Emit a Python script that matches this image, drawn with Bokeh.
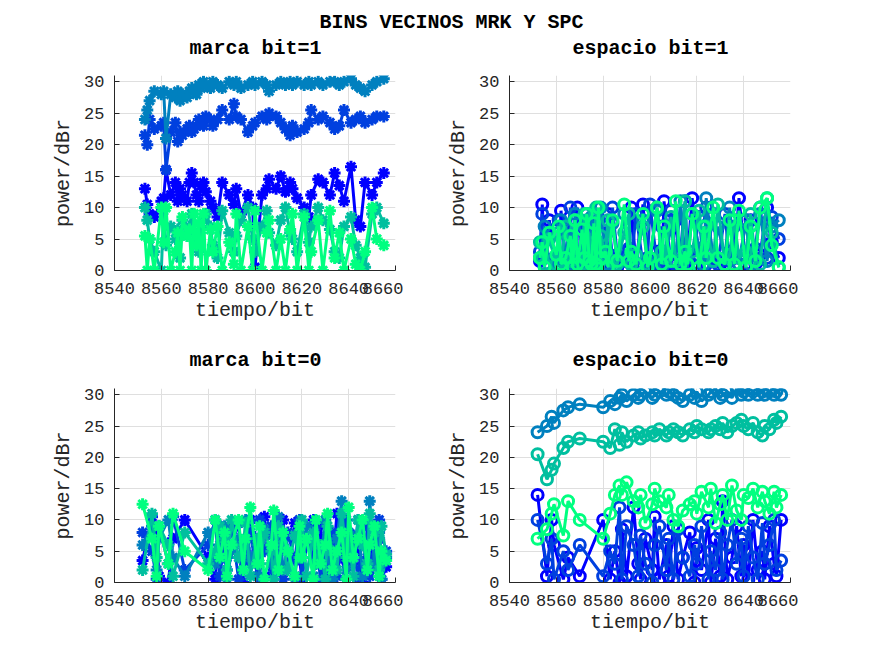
from bokeh.plotting import figure
from bokeh.models import Range1d, FixedTicker, Label
from bokeh.layouts import column, row
from bokeh.embed import file_html
from bokeh.resources import INLINE

# ---------------- data ----------------
suptitle = "BINS VECINOS MRK Y SPC"
titles = ["marca bit=1", "espacio bit=1", "marca bit=0", "espacio bit=0"]
x_label = "tiempo/bit"
y_label = "power/dBr"
x_ticks = [8540, 8560, 8580, 8600, 8620, 8640, 8660]
y_ticks = [0, 5, 10, 15, 20, 25, 30]
series_colors = ["#0000FF", "#0040DF", "#0080BF", "#00BF9F", "#00FF80"]

# bit positions where bit = 1 / bit = 0
xs1 = [8553, 8554, 8555, 8557, 8560, 8561, 8562, 8564, 8566, 8567,
       8568, 8569, 8571, 8572, 8573, 8574, 8575, 8576, 8577, 8578,
       8579, 8581, 8582, 8584, 8586, 8589, 8591, 8592, 8594, 8597,
       8599, 8600, 8603, 8605, 8606, 8609, 8611, 8613, 8615, 8616,
       8618, 8621, 8623, 8624, 8627, 8629, 8632, 8634, 8636, 8638,
       8641, 8643, 8645, 8647, 8650, 8652, 8655]
xs0 = [8552, 8556, 8558, 8559, 8563, 8565, 8570, 8580, 8583, 8585,
       8587, 8588, 8590, 8593, 8595, 8596, 8598, 8601, 8602, 8604,
       8607, 8608, 8610, 8612, 8614, 8617, 8619, 8620, 8622, 8625,
       8626, 8628, 8630, 8631, 8633, 8635, 8637, 8639, 8640, 8642,
       8644, 8646, 8648, 8649, 8651, 8653, 8654, 8656]

# marca bit=1 (5 neighbouring bins)
mk1_a = [13, 10.5, 9, 8.5, 11, 11.5, 16, 12, 14, 11,
         13, 12, 11, 14, 15.5, 14, 12, 11, 13.5, 14,
         12.5, 11, 10, 8.5, 14, 12, 10.5, 13, 9, 12,
         10, 0.5, 12, 13, 14.5, 13, 15, 12.5, 14, 13,
         11.5, 10, 8.5, 12, 14.5, 14, 12, 15.5, 13.5, 11,
         16.5, 8, 7, 14, 12, 14, 15.5]
mk1_b = [21.5, 20, 24, 22.5, 23, 23.5, 16, 22, 23.5, 20.5,
         22, 21.5, 22.5, 23, 22, 22.5, 23, 24, 23.5, 23,
         24.5, 24, 23, 24, 25.5, 24, 26.5, 24.5, 24, 22,
         23, 23.5, 24.5, 24, 25, 24.5, 23.5, 22.5, 21.5, 23,
         22, 22.5, 23.5, 25.5, 24, 24.5, 23.5, 22.5, 23, 25.5,
         23.5, 24, 24.5, 23.5, 24, 24.5, 24.5]
mk1_c = [24, 25.5, 27, 28.5, 28, 28.5, 21, 28, 27.5, 28.5,
         27, 28, 27.5, 28.5, 29, 28.5, 28, 29.5, 29, 30,
         29.5, 29, 30, 29.5, 29, 30, 29.5, 30, 29, 29.5,
         30, 29.5, 30, 29.5, 28.5, 29.5, 30, 29.5, 30, 29.5,
         30, 29.5, 30, 29.5, 30, 29.5, 30, 30, 29.5, 30,
         30.5, 29.5, 29, 28.5, 29.5, 30, 30.5]
mk1_d = [10, 8, 5, 3, 0, 9.5, 4, 7, 5, 6.5,
         2, 8, 5.5, 7, 9, 6, 4, 3, 6.5, 8,
         9, 7, 4, 2, 9.5, 6, 3, 5.5, 8, 10,
         5, 3, 7, 9.5, 6, 4, 8, 10, 6, 5,
         3, 9, 4.5, 7, 10, 8, 6.5, 3, 2, 7,
         8.5, 4, 2, 0.5, 9, 10, 7.5]
mk1_e = [5.5, 0, 5, 0, 10, 4.5, 10, 0, 3, 6,
         0, 8.5, 5.5, 6.5, 0, 9, 4, 7.5, 0, 9,
         0, 6.5, 3, 7, 0, 4.5, 1, 9, 0, 7,
         0, 9.5, 0, 6, 8, 0, 5, 0, 6.5, 9,
         0, 8.5, 0, 3, 8, 0, 9.5, 2, 6, 0,
         5, 1, 0, 3, 10, 5, 4]

# espacio bit=1
sp1_a = [1.5, 10.5, 2, 8, 0.5, 1, 9.5, 1, 3, 0.5,
         2.5, 10, 1, 7, 1.5, 0.5, 2, 8.5, 1, 3,
         1, 1.5, 9, 2, 0.5, 3, 1.5, 10, 1, 10.5,
         2, 0.5, 3, 1, 11, 1, 8, 1.5, 0.5, 2,
         11.5, 2, 7, 1, 9, 1.5, 0.5, 3, 2, 11.5,
         1, 8, 1, 2.5, 10, 4.5, 2]
sp1_b = [3, 9, 1, 6, 0.5, 8, 0.5, 2, 10, 1,
         2.5, 1, 7.5, 1, 9, 2, 3, 0.5, 1.5, 8,
         1.5, 7, 1, 10, 2.5, 0.5, 3.5, 1, 9, 1,
         2, 10.5, 1, 7, 1.5, 9.5, 1, 3, 11, 2,
         1, 8.5, 0.5, 10, 2, 1, 9, 1.5, 7, 1,
         8, 1, 3.5, 10, 2, 8.5, 5]
sp1_c = [2, 4.5, 7, 1, 2, 1, 8, 2, 6.5, 1,
         9, 1.5, 2.5, 7, 1, 1, 8.5, 1.5, 3, 2,
         10, 1, 1, 7.5, 1.5, 9, 2, 1, 0.5, 8,
         1.5, 2, 9.5, 3, 1, 7, 1.5, 11, 2, 0.5,
         9, 3.5, 1, 11.5, 1.5, 7, 2, 10, 2.5, 1,
         8, 1, 3, 9, 1.5, 7, 8]
sp1_d = [4.5, 2, 1, 5, 1, 6, 1.5, 7, 1.5, 2,
         8, 2, 1, 9, 2, 6, 1.5, 1, 10, 1,
         5.5, 2, 8, 1.5, 1, 6, 9, 1, 2.5, 7,
         1, 2, 10, 3, 2, 8.5, 1.5, 1, 11, 1,
         3, 9.5, 2, 7, 1.5, 10.5, 1, 2.5, 8, 2,
         3, 9, 1.5, 1, 11.5, 6, 0.5]
sp1_e = [2, 4.5, 0.5, 6, 2.5, 7, 1, 2, 5.5, 0.5,
         8, 1, 6.5, 2, 9, 1.5, 1, 7.5, 1, 10,
         2, 3, 0.5, 8, 1.5, 10.5, 1.5, 3, 1, 9,
         0.5, 2, 10, 1, 7, 1.5, 11, 1, 3, 1,
         9, 0.5, 7, 2, 10, 2, 1, 8, 1, 9.5,
         0.5, 7, 1.5, 10, 11.5, 4, 0.5]

# marca bit=0
mk0_a = [3.5, 10.5, 8, 1, 0, 7, 10, 4, 0.5, 9,
         4, 2, 6, 9.5, 0, 5, 10, 3, 7, 10.5,
         1, 8, 5, 10, 2, 9.5, 4, 0.5, 6, 10,
         3, 9, 0, 7.5, 2, 11, 4, 0.5, 8, 3,
         6, 0, 9, 2, 5, 7, 0.5, 2.5]
mk0_b = [8, 5, 0.5, 9, 3, 10.5, 2, 6, 10, 1,
         7, 4, 9, 0.5, 6, 3, 8, 1, 10, 5,
         9, 2, 6.5, 0.5, 8, 3.5, 10, 1, 7, 4,
         9, 0, 5.5, 2, 8, 1, 6, 10, 3, 7.5,
         0, 9, 4, 1, 6, 10, 3, 5]
mk0_c = [6, 9, 2, 7, 10, 4, 1, 8, 3, 6,
         9, 0.5, 5, 7, 2, 10, 4, 6, 1, 8.5,
         3, 7, 10.5, 2, 5, 0.5, 8, 4, 9, 1,
         6, 3, 10, 5, 0.5, 7, 13, 2, 8, 4,
         10, 1, 6, 13, 3, 8, 0.5, 4]
mk0_d = [2, 11, 4, 9, 6, 1, 8, 3, 5, 9,
         7, 2, 10, 4, 6, 9.5, 1, 7, 3, 8,
         5, 0.5, 9, 6, 2, 7.5, 4, 10, 1, 8,
         3, 6, 0.5, 9, 5, 2, 11, 4, 7, 1,
         10, 6, 3, 11, 8, 2, 9, 4.5]
mk0_e = [12.5, 7, 1, 9, 3, 11, 5, 2, 10, 4,
         8, 1, 6, 10, 2, 7, 12, 3, 9, 0.5,
         6, 11.5, 2, 8, 5, 1, 9, 4, 7, 0.5,
         10, 3, 6, 11, 2, 5, 8, 0.5, 12, 4,
         7, 10, 2, 6, 9, 1, 5, 3.5]

# espacio bit=0
sp0_a = [14, 1, 10, 6, 0.5, 4, 1, 10, 0.5, 5,
         0, 8.5, 1, 12, 3, 0.5, 7, 2, 10.5, 0.5,
         6, 1, 9, 0.5, 4, 8, 0, 5.5, 2, 10,
         0, 7, 1, 13, 0.5, 4, 9, 1, 6, 0.5,
         10, 2, 5, 0.5, 9, 3, 1, 10]
sp0_b = [10, 3, 7, 0.5, 5, 2, 6, 1, 5, 3,
         12, 0.5, 9, 6, 1, 7.5, 3, 0, 6, 9,
         2, 7, 0.5, 8.5, 4, 1, 6, 3, 9, 0.5,
         5, 2, 8, 0.5, 6, 10, 3, 7, 1, 9,
         4, 0.5, 9.5, 3, 6, 10, 2, 3.5]
sp0_c = [24, 25, 26.5, 25.5, 27.5, 28, 28.5, 28, 29, 28.5,
         29.5, 30, 29, 30, 29.5, 30, 30.5, 29.5, 30, 30.5,
         30, 30.5, 30, 29.5, 29, 30, 29.5, 30.5, 29, 30,
         30.5, 31, 29.5, 30, 30.5, 29.5, 31, 30, 30.5, 30,
         30.5, 30, 30.5, 30, 30.5, 30, 30.5, 30]
sp0_d = [20.5, 16.5, 18, 19, 21.5, 22.5, 23, 22.5, 21.5, 24.5,
         22, 24, 22.5, 23.5, 24, 23, 23.5, 24, 23.5, 24.5,
         23.5, 24, 24.5, 24, 23.5, 24.5, 24, 25, 24.5, 24,
         24.5, 25, 24.5, 25.5, 24, 25, 25.5, 26, 25, 24.5,
         25.5, 24, 23.5, 25, 24.5, 26, 25.5, 26.5]
sp0_e = [7, 8.5, 11, 12.5, 7.5, 13, 10, 7, 11, 14,
         15.5, 14, 16, 13, 12, 14, 9.5, 12.5, 15, 13,
         12, 14, 10, 9, 11.5, 12.5, 13, 11, 14.5, 12,
         15, 9.5, 12.5, 14, 10, 15.5, 11.5, 10, 14, 13.5,
         15, 12, 14.5, 13, 11, 14.5, 12, 14]

# ---------------- styling ----------------
FONT = "Liberation Mono"
DARK = "#262626"
GRID = "#dfdfdf"
COL_CENTERS = [255, 650]


def make_panel(xs, series, marker, width, b_left, height, b_top, b_bottom):
    p = figure(width=width, height=height, output_backend="svg",
               toolbar_location=None,
               x_range=Range1d(8540, 8660), y_range=Range1d(0, 31),
               min_border_left=b_left, min_border_right=8,
               min_border_top=b_top, min_border_bottom=b_bottom)
    p.outline_line_color = None
    p.background_fill_color = "white"
    p.border_fill_color = "white"

    p.xaxis.ticker = FixedTicker(ticks=x_ticks)
    p.yaxis.ticker = FixedTicker(ticks=y_ticks)
    for ax in (p.xaxis[0], p.yaxis[0]):
        ax.axis_line_color = DARK
        ax.major_tick_line_color = DARK
        ax.major_tick_in = 5
        ax.major_tick_out = 0
        ax.minor_tick_line_color = None
        ax.major_label_text_font = FONT
        ax.major_label_text_font_size = "17px"
        ax.major_label_text_color = DARK
        ax.axis_label_text_font = FONT
        ax.axis_label_text_font_size = "20px"
        ax.axis_label_text_font_style = "normal"
        ax.axis_label_text_color = DARK
    p.xaxis.axis_label = x_label
    p.yaxis.axis_label = y_label
    p.xaxis.major_label_standoff = 12
    p.xaxis.axis_label_standoff = 2
    p.yaxis.major_label_standoff = 10
    p.yaxis.axis_label_standoff = 6

    p.xgrid.ticker = FixedTicker(ticks=x_ticks)
    p.ygrid.ticker = FixedTicker(ticks=y_ticks)
    p.grid.grid_line_color = GRID
    p.grid.grid_line_width = 1

    for ys, col in zip(series, series_colors):
        p.line(xs, ys, line_color=col, line_width=3)
        if marker == "asterisk":
            p.scatter(xs, ys, marker="asterisk", size=12,
                      line_color=col, line_width=3)
        else:
            p.scatter(xs, ys, marker="circle", size=11,
                      line_color=col, fill_color=None, line_width=3)
    return p


def text_strip(height, items):
    s = figure(width=798, height=height, output_backend="svg",
               toolbar_location=None, x_range=Range1d(0, 1),
               y_range=Range1d(0, 1), min_border=0)
    s.axis.visible = False
    s.grid.visible = False
    s.outline_line_color = None
    for txt, x, y_from_top in items:
        s.add_layout(Label(x=x, y=height - y_from_top, x_units="screen",
                           y_units="screen", text=txt, text_align="center",
                           text_baseline="middle", text_font=FONT,
                           text_font_size="20px", text_font_style="bold",
                           text_color="#000000"))
    return s


strip_a = text_strip(65, [(suptitle, 451, 22),
                          (titles[0], COL_CENTERS[0], 48),
                          (titles[1], COL_CENTERS[1], 48)])
p1 = make_panel(xs1, [mk1_a, mk1_b, mk1_c, mk1_d, mk1_e],
                "asterisk", 403, 114, 275, 10, 70)
p2 = make_panel(xs1, [sp1_a, sp1_b, sp1_c, sp1_d, sp1_e],
                "circle", 395, 106, 275, 10, 70)
strip_b = text_strip(38, [(titles[2], COL_CENTERS[0], 20),
                          (titles[3], COL_CENTERS[1], 20)])
p3 = make_panel(xs0, [mk0_a, mk0_b, mk0_c, mk0_d, mk0_e],
                "asterisk", 403, 114, 266, 10, 62)
p4 = make_panel(xs0, [sp0_a, sp0_b, sp0_c, sp0_d, sp0_e],
                "circle", 395, 106, 266, 10, 62)

layout = column(strip_a, row(p1, p2), strip_b, row(p3, p4))
open("out.html", "w").write(file_html(layout, INLINE))
